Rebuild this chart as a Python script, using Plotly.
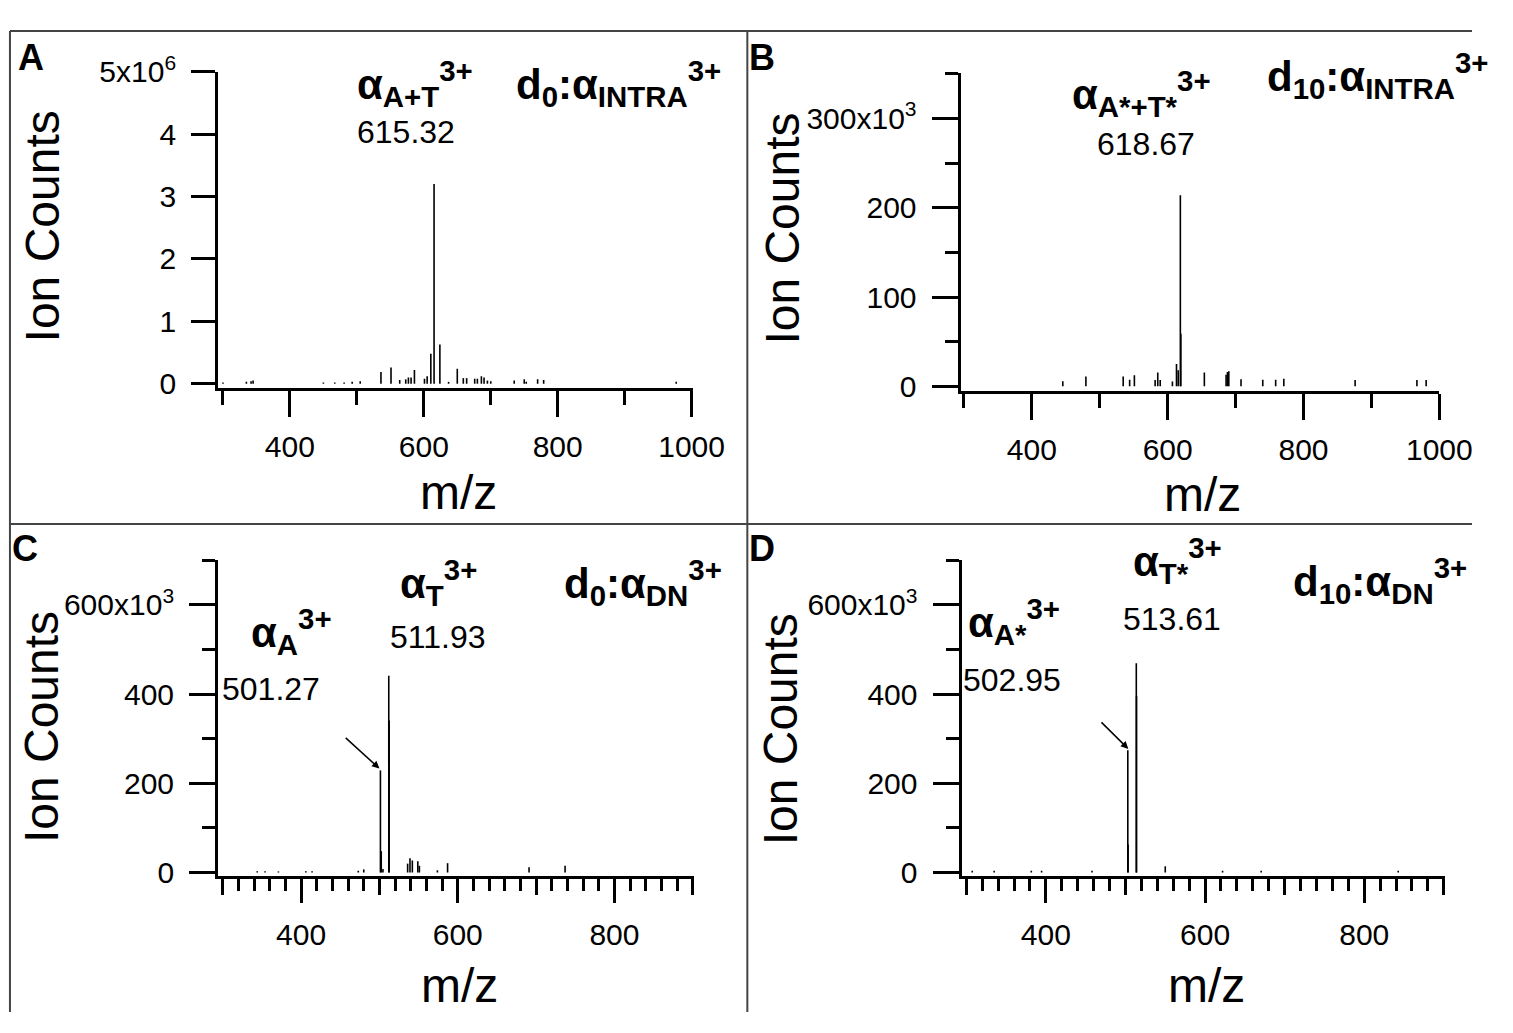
import plotly.graph_objects as go

W, H = 1513, 1033          # size of the browser window
PAD = 8                    # default body margin of the html page
FW, FH = W - 2 * PAD, H - 2 * PAD
FONT = "Liberation Sans, Arial, sans-serif"

# ---- data ----
# A: d0 intra-linked, ion counts in units of 10^6
mz_a = [300, 335, 342, 345, 450, 467, 481, 493, 505, 536, 551, 564, 573, 577, 581, 586,
        601, 605, 610.5, 615.32, 624, 637, 650, 659, 664, 676, 680, 686, 690, 695, 700,
        735, 750, 753, 770, 779, 977]
int_a = [0.02, 0.03, 0.04, 0.05, 0.02, 0.02, 0.02, 0.03, 0.04, 0.19, 0.26, 0.06, 0.07, 0.10, 0.10, 0.22,
         0.08, 0.12, 0.48, 3.20, 0.63, 0.03, 0.24, 0.09, 0.09, 0.08, 0.08, 0.12, 0.10, 0.05, 0.04,
         0.05, 0.07, 0.03, 0.07, 0.06, 0.03]

# B: d10 intra-linked, ion counts in units of 10^3
mz_b = [445.6, 479.6, 534.5, 544, 551, 581.5, 585.4, 589, 607, 613, 615.5, 618.67, 619.4, 654,
        686, 688, 690, 708, 740, 759, 771, 876, 967, 980.6]
int_b = [5.8, 11, 11, 7.5, 12.5, 7, 15.5, 7, 5.5, 25, 18, 214, 59, 15.5,
         13, 16, 17, 8, 7.5, 7.5, 8.5, 7, 7, 7]

# C: d0 dead-end, ion counts in units of 10^3
mz_c = [344, 354, 371, 406, 414, 473, 480, 501.27, 502.3, 504.5, 511.93, 512.4, 536, 539, 542,
        549, 551, 574, 587, 691, 737]
int_c = [3, 3, 2.5, 3, 3, 4, 7, 229, 48, 8, 441, 341, 20, 32, 27,
         25, 15, 5, 21, 12, 15]

# D: d10 dead-end, ion counts in units of 10^3
mz_d = [307.5, 335, 381.7, 394.6, 458, 502.95, 503.3, 513.61, 513.9, 550, 622, 670.5, 842.7]
int_d = [4, 4, 4, 4, 4, 274, 63, 469, 396, 14, 4, 4, 4]

# axis ticks
yticks_a = [0, 1, 2, 3, 4, 5]
ytext_a = ["0", "1", "2", "3", "4", "5x10<sup>6</sup>"]
yticks_b = [0, 100, 200, 300]
ytext_b = ["0", "100", "200", "300x10<sup>3</sup>"]
yticks_cd = [0, 200, 400, 600]
ytext_cd = ["0", "200", "400", "600x10<sup>3</sup>"]


# window pixel -> paper fraction
def fx(p):
    return (p - PAD) / FW


def fy(p):
    return 1 - (p - PAD) / FH


def sticks(mz, inten):
    xs, ys = [], []
    for m, v in zip(mz, inten):
        xs += [m, m, None]
        ys += [0, v, None]
    return xs, ys


fig = go.Figure()
for (mz, inten), ax in [((mz_a, int_a), 1), ((mz_b, int_b), 2), ((mz_c, int_c), 3), ((mz_d, int_d), 4)]:
    xs, ys = sticks(mz, inten)
    fig.add_trace(go.Scatter(x=xs, y=ys, mode="lines", line=dict(color="black", width=1.6),
                             xaxis=f"x{ax}", yaxis=f"y{ax}", showlegend=False, hoverinfo="skip"))
# empty traces so the overlay axes (medium ticks) get drawn
fig.add_trace(go.Scatter(x=[], y=[], xaxis="x5", yaxis="y3", showlegend=False))
fig.add_trace(go.Scatter(x=[], y=[], xaxis="x6", yaxis="y4", showlegend=False))

tickfont = dict(family=FONT, size=30, color="black")
common = dict(showline=True, linecolor="black", linewidth=3, ticks="outside", tickcolor="black",
              tickwidth=3, showgrid=False, zeroline=False, tickfont=tickfont)

xa = dict(common, ticklen=26, tickvals=[400, 600, 800, 1000], ticklabelstandoff=4,
          minor=dict(tickvals=[300, 500, 700, 900], ticks="outside", ticklen=14, tickwidth=3, tickcolor="black"))
xc = dict(common, ticklen=24, tickvals=[400, 600, 800], ticklabelstandoff=6,
          minor=dict(dtick=20, ticks="outside", ticklen=12, tickwidth=3, tickcolor="black"))
ymin = dict(ticks="outside", ticklen=13, tickwidth=3, tickcolor="black")

fig.update_layout(
    width=FW, height=FH, margin=dict(l=0, r=0, t=0, b=0),
    paper_bgcolor="white", plot_bgcolor="white",
    xaxis=dict(xa, domain=[fx(222.8), fx(708.6)], range=[292.7, 1002.3], anchor="y"),
    yaxis=dict(common, domain=[fy(379.3), fy(52.3)], range=[-0.0666, 5], anchor="x",
               tickvals=yticks_a, ticktext=ytext_a, ticklen=24, ticklabelstandoff=9),
    xaxis2=dict(xa, domain=[fx(982), fx(1471.6)], range=[295, 1000], anchor="y2"),
    yaxis2=dict(common, domain=[fy(382.7), fy(53.3)], range=[-5.4, 351], anchor="x2",
                tickvals=yticks_b, ticktext=ytext_b, ticklen=26, ticklabelstandoff=9,
                minor=dict(ymin, tickvals=[50, 150, 250, 350])),
    xaxis3=dict(xc, domain=[fx(222.8), fx(709)], range=[294, 901], anchor="y3"),
    yaxis3=dict(common, domain=[fy(884.3), fy(557.7)], range=[-7.8, 700], anchor="x3",
                tickvals=yticks_cd, ticktext=ytext_cd, ticklen=26, ticklabelstandoff=9,
                minor=dict(ymin, tickvals=[100, 300, 500, 700])),
    xaxis4=dict(xc, domain=[fx(983), fx(1477)], range=[294, 901], anchor="y4"),
    yaxis4=dict(common, domain=[fy(884.3), fy(557.7)], range=[-7.8, 700], anchor="x4",
                tickvals=yticks_cd, ticktext=ytext_cd, ticklen=26, ticklabelstandoff=9,
                minor=dict(ymin, tickvals=[100, 300, 500, 700])),
    xaxis5=dict(overlaying="x3", anchor="y3", range=[294, 901], tickvals=[300, 500, 700, 900],
                ticks="outside", ticklen=18, tickwidth=3, tickcolor="black", showticklabels=False,
                showgrid=False, zeroline=False, showline=False),
    xaxis6=dict(overlaying="x4", anchor="y4", range=[294, 901], tickvals=[300, 500, 700, 900],
                ticks="outside", ticklen=18, tickwidth=3, tickcolor="black", showticklabels=False,
                showgrid=False, zeroline=False, showline=False),
)

# panel frame
frame = dict(type="line", xref="paper", yref="paper", line=dict(color="#444", width=2))
fig.add_shape(frame, x0=fx(10), x1=1, y0=fy(10), y1=fy(10))
fig.add_shape(frame, x0=fx(10), x1=fx(10), y0=fy(10), y1=0)
fig.add_shape(frame, x0=fx(764), x1=fx(764), y0=fy(10), y1=0)
fig.add_shape(frame, x0=fx(10), x1=1, y0=fy(520), y1=fy(520))


def label(text, x, y, size, bold=False, anchor="left", angle=0):
    fig.add_annotation(text=f"<b>{text}</b>" if bold else text, x=fx(x), y=fy(y),
                       xref="paper", yref="paper", showarrow=False, xanchor=anchor,
                       yanchor="middle", textangle=angle,
                       font=dict(family=FONT, size=size, color="black"))


def ion_label(text, x, base):
    # bold label with sub/superscript; base = baseline of the alpha glyph
    label(text, x, base - 14.6, 42, bold=True)


# panel letters
for t, x, y in [("A", 16, 37), ("B", 764, 37), ("C", 10, 545), ("D", 764, 545)]:
    label(t, x, y, 36, bold=True)

# axis titles
for x, y in [(43, 212), (800, 215), (43, 730), (798, 733)]:
    label("Ion Counts", x, y, 48, anchor="center", angle=-90)
for x, y in [(469, 488), (1229, 490), (470, 998), (1234, 998)]:
    label("m/z", x, y, 48, anchor="center")

# peak labels
ion_label("α<sub>A+T</sub><sup>3+</sup>", 363, 79)
label("615.32", 363, 115, 32)
ion_label("d<sub>0</sub>:α<sub>INTRA</sub><sup>3+</sup>", 525, 79)

ion_label("α<sub>A*+T*</sub><sup>3+</sup>", 1094, 89)
label("618.67", 1119, 127, 32)
ion_label("d<sub>10</sub>:α<sub>INTRA</sub><sup>3+</sup>", 1293, 71)

ion_label("α<sub>T</sub><sup>3+</sup>", 407, 595)
label("511.93", 397, 637, 32)
ion_label("α<sub>A</sub><sup>3+</sup>", 254, 646)
label("501.27", 225, 691, 32)
ion_label("d<sub>0</sub>:α<sub>DN</sub><sup>3+</sup>", 574, 595)

ion_label("α<sub>T*</sub><sup>3+</sup>", 1156, 573)
label("513.61", 1146, 618, 32)
ion_label("α<sub>A*</sub><sup>3+</sup>", 988, 636)
label("502.95", 982, 682, 32)
ion_label("d<sub>10</sub>:α<sub>DN</sub><sup>3+</sup>", 1320, 593)

# arrows pointing to the alpha_A peaks
fig.add_annotation(x=500, y=233, ax=455, ay=305, xref="x3", yref="y3", axref="x3", ayref="y3",
                   text="", showarrow=True, arrowhead=2, arrowsize=1, arrowwidth=1.5, arrowcolor="black")
fig.add_annotation(x=503.6, y=277, ax=468, ay=340, xref="x4", yref="y4", axref="x4", ayref="y4",
                   text="", showarrow=True, arrowhead=2, arrowsize=1, arrowwidth=1.5, arrowcolor="black")

fig.write_html("out.html")
